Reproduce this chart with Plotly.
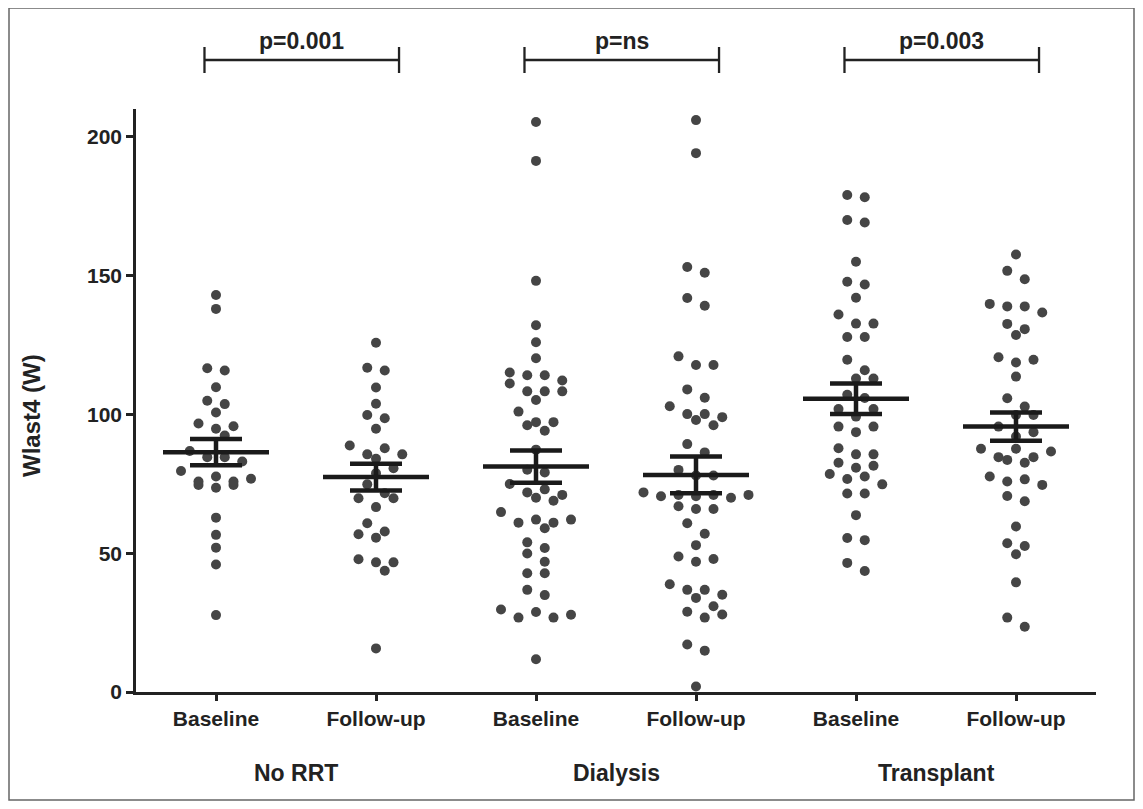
import plotly.graph_objects as go

# ---------------- data ----------------
tick_labels = ["Baseline", "Follow-up", "Baseline", "Follow-up", "Baseline", "Follow-up"]
group_names = ["No RRT", "Dialysis", "Transplant"]
p_values = ["p=0.001", "p=ns", "p=0.003"]

no_rrt_baseline = [143, 138, 116.6, 115.8, 109.8, 103.7, 104.9, 100.7, 96.7, 94.8, 95.7, 92.4,
                   86.8, 84.6, 84.6, 83.0, 79.6, 75.8, 76.8, 74.6, 74.6, 77.6, 73.6, 75.8,
                   62.8, 56.6, 52.0, 45.9, 27.7]
no_rrt_followup = [125.8, 115.8, 116.8, 109.7, 103.8, 99.8, 98.6, 94.8, 88.8, 85.6, 87.8, 85.6,
                   84.0, 80.6, 78.8, 74.8, 69.8, 71.6, 69.8, 66.6, 60.8, 55.6, 56.8, 57.8,
                   47.8, 46.7, 43.7, 46.7, 15.7]
dialysis_baseline = [205.3, 191.3, 148.1, 132.1, 126.0, 120.2, 114.1, 114.1, 111.1, 112.2, 115.1,
                     108.3, 108.3, 108.3, 105.2, 101.0, 97.2, 96.1, 97.2, 94.1, 87.3, 79.1, 80.1,
                     74.9, 73.0, 68.9, 71.0, 70.0, 71.9, 64.8, 61.0, 61.0, 59.0, 62.1, 62.1, 51.9,
                     53.9, 49.9, 46.9, 42.8, 42.8, 34.9, 36.8, 27.8, 29.7, 26.8, 26.8, 28.8, 11.8]
dialysis_followup = [206.0, 194.1, 153.1, 151.0, 141.9, 139.1, 120.9, 117.8, 117.8, 109.0, 106.0,
                     102.9, 99.0, 100.1, 98.0, 100.1, 96.1, 89.3, 86.3, 80.0, 78.0, 78.0, 71.0,
                     71.9, 70.5, 71.0, 70.5, 70.0, 71.0, 65.9, 66.9, 65.9, 60.8, 57.0, 52.9, 48.8,
                     46.9, 47.9, 38.8, 36.8, 36.8, 35.0, 33.9, 30.9, 28.9, 27.9, 26.8, 17.1, 14.9, 2.0]
transplant_baseline = [178.2, 179.0, 169.1, 170.0, 155.0, 146.8, 147.8, 142.0, 136.0, 132.7, 132.7,
                       127.9, 127.9, 119.7, 115.9, 112.9, 112.9, 107.1, 105.9, 101.9, 101.9, 99.2,
                       95.6, 95.6, 93.6, 87.8, 85.6, 85.6, 82.6, 80.8, 81.5, 78.5, 76.7, 77.6, 74.8,
                       71.5, 71.5, 63.7, 54.7, 55.5, 43.6, 46.5]
transplant_followup = [157.6, 151.7, 148.7, 138.9, 136.7, 139.8, 138.9, 130.7, 128.6, 132.6, 120.6,
                       118.7, 119.7, 113.6, 105.8, 102.8, 99.8, 99.8, 95.6, 93.6, 92.0, 86.6, 87.6,
                       87.6, 84.6, 84.6, 82.6, 83.6, 76.6, 74.6, 75.8, 77.6, 68.7, 70.6, 59.6, 52.6,
                       49.6, 53.6, 39.5, 23.5, 26.8]

means = [86.4, 77.4, 81.2, 78.2, 105.6, 95.6]
sems = [4.7, 4.8, 5.8, 6.6, 5.5, 5.1]

groups = [no_rrt_baseline, no_rrt_followup, dialysis_baseline,
          dialysis_followup, transplant_baseline, transplant_followup]

# ---------------- layout constants ----------------
# page is shown with an 8px body margin, so the figure is 16px smaller than the window
OFF = 8
W, H = 1143 - 2 * OFF, 809 - 2 * OFF
PLOT_L, PLOT_R, PLOT_T, PLOT_B = 136, 1096, 109, 692      # on-screen plot area
ML, MT = PLOT_L - OFF, PLOT_T - OFF
PW, PH = PLOT_R - PLOT_L, PLOT_B - PLOT_T
MR, MB = W - ML - PW, H - MT - PH
YMAX = 210
PX_PER_UNIT = PH / YMAX
PX_PER_CAT = PW / 6.0
INK = "#222222"
DOT = "#454545"
FONT = "Liberation Sans, Arial, Helvetica, sans-serif"
MEAN_LINE_PX = 106          # on-screen length of the mean bar
LINE_EW_FACTOR = 1.4        # plotly's line-ew symbol is 1.4 x marker size long


def px_x(pix):
    return (pix - PLOT_L) / PW


def px_y(pix):
    return (PLOT_B - pix) / PH


def swarm(vals, center, step=17.5, bin_units=4.0, dmin=9.5):
    """Row-binned beeswarm (Prism-like): values close together share a centred row."""
    n = len(vals)
    order = sorted(range(n), key=lambda i: -vals[i])
    rows = []
    for i in order:
        if rows and vals[rows[-1][0]] - vals[i] < bin_units:
            rows[-1].append(i)
        else:
            rows.append([i])
    xs = [0.0] * n
    placed = []
    for row in rows:
        m = len(row)
        slots = [(j - (m - 1) / 2.0) * step for j in range(m)]
        pattern = list(range(0, m, 2)) + list(range(1, m, 2))
        best = None
        for shift in (0.0, step / 2.0, -step / 2.0):
            cand = {row[k]: slots[pattern[k]] + shift for k in range(m)}
            bad = sum(1 for i, xo in cand.items() for (px, pyv) in placed
                      if (xo - px) ** 2 + (vals[i] * PX_PER_UNIT - pyv) ** 2 < dmin * dmin)
            if best is None or bad < best[0]:
                best = (bad, cand)
            if bad == 0:
                break
        for i, xo in best[1].items():
            xs[i] = center + xo / PX_PER_CAT
            placed.append((xo, vals[i] * PX_PER_UNIT))
    return xs


fig = go.Figure()

for gi, vals in enumerate(groups):
    fig.add_trace(go.Scatter(
        x=swarm(vals, gi), y=vals, mode="markers",
        marker=dict(size=10, color=DOT, line=dict(width=0)),
        cliponaxis=False, showlegend=False, hoverinfo="y"))

fig.add_trace(go.Scatter(
    x=list(range(6)), y=means, mode="markers",
    marker=dict(symbol="line-ew", size=MEAN_LINE_PX / LINE_EW_FACTOR, color="#1a1a1a",
                line=dict(width=4.5, color="#1a1a1a")),
    error_y=dict(type="data", array=sems, visible=True, width=26,
                 thickness=4.5, color="#1a1a1a"),
    cliponaxis=False, showlegend=False))

shapes = []
annotations = []
for k in range(3):
    x0 = 2 * k - 0.072
    x1 = 2 * k + 1 + 0.144
    shapes.append(dict(type="line", xref="x", yref="paper", x0=x0, x1=x1,
                       y0=px_y(60), y1=px_y(60), line=dict(color=INK, width=2.3)))
    for xx in (x0, x1):
        shapes.append(dict(type="line", xref="x", yref="paper", x0=xx, x1=xx,
                           y0=px_y(47), y1=px_y(73), line=dict(color=INK, width=2.3)))
    annotations.append(dict(text=p_values[k], xref="x", yref="paper",
                            x=(x0 + x1) / 2, y=px_y(41), showarrow=False,
                            xanchor="center", yanchor="middle",
                            font=dict(family=FONT, size=23, color=INK, weight="bold")))
    annotations.append(dict(text=group_names[k], xref="x", yref="paper",
                            x=2 * k + 0.5, y=px_y(773), showarrow=False,
                            xanchor="center", yanchor="middle",
                            font=dict(family=FONT, size=23, color=INK, weight="bold")))

# y-axis title
annotations.append(dict(text="Wlast4 (W)", xref="paper", yref="paper",
                        x=px_x(31), y=px_y(416), showarrow=False, textangle=-90,
                        xanchor="center", yanchor="middle",
                        font=dict(family=FONT, size=24, color=INK, weight="bold")))

# outer frame
shapes.append(dict(type="rect", xref="paper", yref="paper",
                   x0=px_x(9), x1=px_x(1134), y0=px_y(800), y1=px_y(8),
                   line=dict(color="#666666", width=1.5), layer="below"))

fig.update_layout(
    width=W, height=H,
    margin=dict(l=ML, r=MR, t=MT, b=MB),
    plot_bgcolor="white", paper_bgcolor="white",
    shapes=shapes, annotations=annotations,
    font=dict(family=FONT, color=INK),
    xaxis=dict(range=[-0.5, 5.5], tickmode="array", tickvals=list(range(6)),
               ticktext=tick_labels, showline=True, linewidth=2.5, linecolor=INK,
               ticks="outside", ticklen=6, tickwidth=2.5, tickcolor=INK,
               showgrid=False, zeroline=False, automargin=False,
               ticklabelstandoff=0,
               tickfont=dict(family=FONT, size=21, color=INK, weight="bold")),
    yaxis=dict(range=[0, YMAX], tickmode="array", tickvals=[0, 50, 100, 150, 200],
               showline=True, linewidth=2.5, linecolor=INK,
               ticks="outside", ticklen=7, tickwidth=2.5, tickcolor=INK,
               showgrid=False, zeroline=False, automargin=False,
               tickfont=dict(family=FONT, size=21, color=INK, weight="bold")),
)

fig.write_html("out.html")
